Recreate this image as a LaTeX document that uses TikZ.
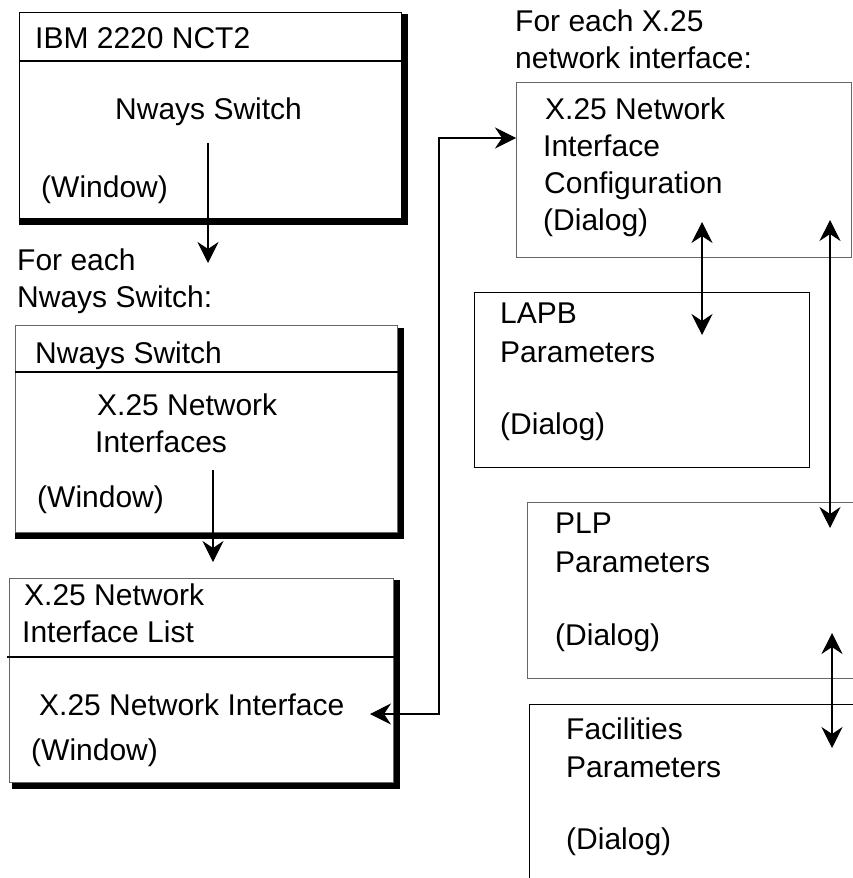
\documentclass[tikz,border=0pt]{standalone}
\usepackage{fontspec}
\setmainfont{Liberation Sans}
\usetikzlibrary{arrows.meta,calc}
\begin{document}
\begin{tikzpicture}[x=1pt,y=-1pt,
  txt/.style={anchor=base west, inner sep=0pt, font=\fontsize{30}{36}\selectfont},
  boxk/.style={draw=black, line width=1.1pt, rectangle, inner sep=0pt, anchor=north west},
  boxg/.style={draw=black!60, line width=1.1pt, rectangle, inner sep=0pt, anchor=north west},
  divider/.style={draw=black, line width=1.1pt},
  shade/.style={draw=black, line width=6pt},
  conn/.style={draw=black, line width=1.1pt},
  onetip/.style={-{Stealth[length=21pt,width=21pt,inset=7pt]}},
  twotips/.style={{Stealth[length=21pt,width=21pt,inset=7pt]}-{Stealth[length=21pt,width=21pt,inset=7pt]}}
]
\useasboundingbox (0,0) rectangle (853,878);

% ---- box 1: IBM 2220 NCT2 window
\node[boxk, minimum width=382pt, minimum height=206pt] (b1) at (19,12) {};
\draw[divider] ($(b1.north west)+(0,49)$) -- ($(b1.north east)+(0,49)$);
\draw[shade] ($(b1.south west)+(0,3)$) -| ($(b1.north east)+(3,2)$);
\node[txt] (t11) at (35,48) {IBM 2220 NCT2};
\node[txt] (t12) at (115,119) {Nways Switch};
\node[txt] (t13) at (41,197) {(Window)};

% ---- caption
\node[txt] (c1) at (17,270) {For each};
\node[txt] (c2) at (17,307) {Nways Switch:};

% ---- box 2: Nways Switch window
\node[boxg, minimum width=382pt, minimum height=207pt] (b2) at (15,325) {};
\draw[divider] ($(b2.north west)+(0,47)$) -- ($(b2.north east)+(0,47)$);
\draw[shade] ($(b2.south west)+(0,3)$) -| ($(b2.north east)+(3,3)$);
\node[txt] (t21) at (35,363) {Nways Switch};
\node[txt] (t22) at (97,415) {X.25 Network};
\node[txt] (t23) at (95,452) {Interfaces};
\node[txt] (t24) at (37,507) {(Window)};

% ---- box 3: X.25 Network Interface List window
\node[boxg, minimum width=384pt, minimum height=204pt] (b3) at (9,578) {};
\draw[divider] ($(b3.north west)+(-2,79)$) -- ($(b3.north east)+(0,79)$);
\draw[shade] ($(b3.south west)+(3,3)$) -| ($(b3.north east)+(3,2)$);
\node[txt] (t31) at (24,605) {X.25 Network};
\node[txt] (t32) at (22,642) {Interface List};
\node[txt] (t33) at (39,715) {X.25 Network Interface};
\node[txt] (t34) at (31,760) {(Window)};

% ---- top right caption
\node[txt] (c3) at (515,31) {For each X.25};
\node[txt] (c4) at (515,68) {network interface:};

% ---- config dialog
\node[boxg, minimum width=335pt, minimum height=175pt] (b4) at (516,82) {};
\node[txt] (t41) at (545,119) {X.25 Network};
\node[txt] (t42) at (543,156) {Interface};
\node[txt] (t43) at (544,193) {Configuration};
\node[txt] (t44) at (543,230) {(Dialog)};

% ---- LAPB dialog
\node[boxk, minimum width=335pt, minimum height=175pt] (b5) at (474,292) {};
\node[txt] (t51) at (500,323) {LAPB};
\node[txt] (t52) at (500,362) {Parameters};
\node[txt] (t53) at (500,434) {(Dialog)};

% ---- PLP dialog
\node[boxg, minimum width=340pt, minimum height=176pt] (b6) at (527,502) {};
\node[txt] (t61) at (555,533) {PLP};
\node[txt] (t62) at (555,572) {Parameters};
\node[txt] (t63) at (555,645) {(Dialog)};

% ---- Facilities dialog
\node[boxk, minimum width=340pt, minimum height=190pt] (b7) at (529,704) {};
\node[txt] (t71) at (566,739) {Facilities};
\node[txt] (t72) at (566,777) {Parameters};
\node[txt] (t73) at (566,849) {(Dialog)};

% ---- connector end points
\coordinate (p1s) at (208,143);
\coordinate (p1e) at (208,263);
\coordinate (p2s) at (213,470);
\coordinate (p2e) at (213,562);
\coordinate (p3a) at (370,714);
\coordinate (p3k1) at (439,714);
\coordinate (p3k2) at (439,138);
\coordinate (p3b) at (516,138);
\coordinate (p4a) at (702,222);
\coordinate (p4b) at (702,335);
\coordinate (p5a) at (830,220);
\coordinate (p5b) at (830,528);
\coordinate (p6a) at (832,633);
\coordinate (p6b) at (832,748);

% ---- connectors
\draw[conn,onetip] (p1s) -- (p1e);
\draw[conn,onetip] (p2s) -- (p2e);
\draw[conn,twotips] (p3a) -- (p3k1) -- (p3k2) -- (p3b);
\draw[conn,twotips] (p4a) -- (p4b);
\draw[conn,twotips] (p5a) -- (p5b);
\draw[conn,twotips] (p6a) -- (p6b);
\end{tikzpicture}
\end{document}
